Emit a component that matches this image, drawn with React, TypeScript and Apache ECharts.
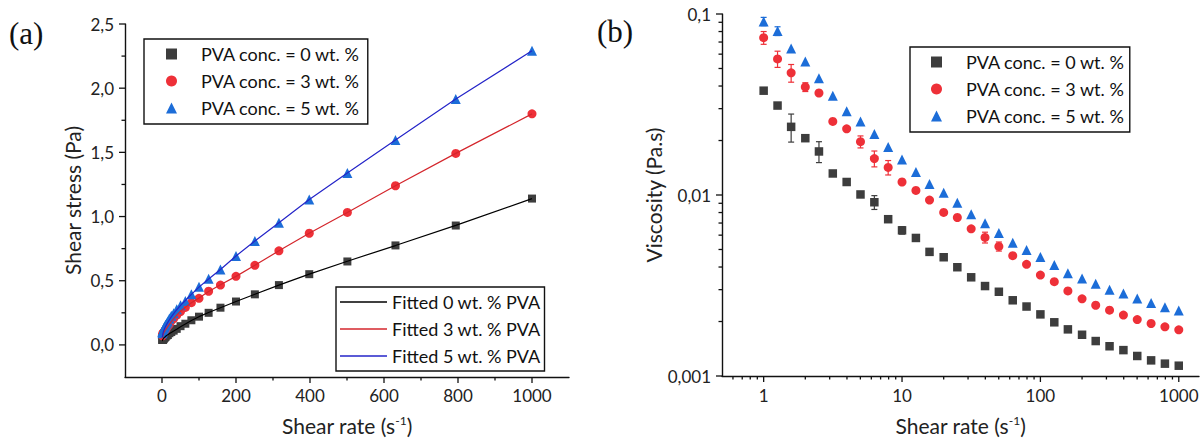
import React, { useEffect, useRef } from 'react';
import * as echarts from 'echarts';

// ---------- data ----------
const shearRate = [1, 1.26, 1.58, 2, 2.51, 3.16, 3.98, 5.01, 6.31, 7.94, 10, 12.6, 15.8, 20, 25.1, 31.6, 39.8, 50.1, 63.1, 79.4, 100, 126, 158, 200, 251, 316, 398, 501, 631, 794, 1000];

// (a) shear stress (Pa)
const stress0 = [0.038, 0.039, 0.038, 0.041, 0.044, 0.042, 0.047, 0.050, 0.058, 0.058, 0.064, 0.073, 0.077, 0.091, 0.100, 0.111, 0.125, 0.146, 0.165, 0.192, 0.220, 0.250, 0.290, 0.338, 0.394, 0.466, 0.551, 0.650, 0.775, 0.930, 1.140];
const stress3 = [0.074, 0.071, 0.075, 0.079, 0.092, 0.081, 0.092, 0.099, 0.100, 0.113, 0.118, 0.134, 0.148, 0.160, 0.189, 0.205, 0.232, 0.260, 0.292, 0.329, 0.363, 0.418, 0.466, 0.534, 0.620, 0.733, 0.870, 1.032, 1.240, 1.492, 1.800];
const stress5 = [0.091, 0.101, 0.102, 0.109, 0.111, 0.112, 0.115, 0.128, 0.137, 0.146, 0.157, 0.169, 0.182, 0.206, 0.227, 0.247, 0.278, 0.309, 0.343, 0.394, 0.453, 0.516, 0.588, 0.693, 0.810, 0.952, 1.133, 1.340, 1.596, 1.915, 2.292];

// (a) fitted curves
const fit0 = [0.030, 0.034, 0.037, 0.041, 0.044, 0.047, 0.050, 0.055, 0.059, 0.062, 0.067, 0.073, 0.080, 0.088, 0.097, 0.108, 0.122, 0.141, 0.163, 0.190, 0.220, 0.252, 0.290, 0.338, 0.395, 0.466, 0.551, 0.652, 0.774, 0.931, 1.140];
const fit3 = [0.050, 0.056, 0.062, 0.068, 0.074, 0.080, 0.087, 0.094, 0.102, 0.110, 0.119, 0.131, 0.145, 0.162, 0.182, 0.205, 0.232, 0.262, 0.294, 0.329, 0.365, 0.416, 0.468, 0.534, 0.620, 0.733, 0.870, 1.032, 1.240, 1.492, 1.800];
const fit5 = [0.060, 0.066, 0.073, 0.080, 0.088, 0.096, 0.104, 0.113, 0.123, 0.134, 0.146, 0.160, 0.176, 0.196, 0.218, 0.244, 0.274, 0.308, 0.346, 0.394, 0.450, 0.514, 0.588, 0.693, 0.810, 0.952, 1.133, 1.340, 1.596, 1.915, 2.292];

// (b) viscosity (Pa.s)
const visc0 = [0.0377, 0.0312, 0.0238, 0.0206, 0.0174, 0.01315, 0.0118, 0.01007, 0.00912, 0.00735, 0.00638, 0.00579, 0.00485, 0.00453, 0.00399, 0.00351, 0.00314, 0.00292, 0.00262, 0.00242, 0.00219, 0.00198, 0.00181, 0.00169, 0.00156, 0.00146, 0.00139, 0.00129, 0.00122, 0.00117, 0.00114];
const visc3 = [0.0740, 0.0565, 0.0473, 0.0395, 0.0366, 0.0255, 0.0232, 0.0197, 0.0159, 0.0142, 0.0118, 0.0106, 0.00938, 0.00801, 0.00751, 0.00650, 0.00583, 0.00520, 0.00462, 0.00414, 0.00361, 0.00332, 0.00295, 0.00267, 0.00246, 0.00231, 0.00217, 0.00205, 0.00195, 0.00187, 0.00180];
const visc5 = [0.0910, 0.0805, 0.0645, 0.0547, 0.0441, 0.0353, 0.0290, 0.0255, 0.0217, 0.0184, 0.0157, 0.0134, 0.0115, 0.0103, 0.00905, 0.00782, 0.00698, 0.00617, 0.00544, 0.00496, 0.00455, 0.00411, 0.00370, 0.00346, 0.00323, 0.00300, 0.00286, 0.00268, 0.00253, 0.00240, 0.00230];

// (b) error bars (+/-), 0 = no bar
const err0 = [0, 0, 0.0042, 0, 0.0023, 0, 0, 0, 0.0008, 0, 0.0003, 0, 0, 0, 0, 0, 0, 0, 0, 0, 0, 0, 0, 0, 0, 0, 0, 0, 0, 0, 0];
const err3 = [0.0060, 0.0058, 0.0053, 0.0022, 0.0010, 0, 0, 0.0015, 0.0016, 0.0013, 0, 0, 0, 0, 0, 0, 0.0004, 0.0003, 0, 0, 0, 0, 0, 0, 0, 0, 0, 0, 0, 0, 0];
const err5 = [0.0048, 0.0045, 0, 0, 0, 0, 0, 0, 0, 0, 0, 0, 0, 0, 0, 0, 0, 0, 0, 0, 0, 0, 0, 0, 0, 0, 0, 0, 0, 0, 0];

const seriesNames = ['PVA conc. = 0 wt. %', 'PVA conc. = 3 wt. %', 'PVA conc. = 5 wt. %'];
const fitNames = ['Fitted 0 wt. % PVA', 'Fitted 3 wt. % PVA', 'Fitted 5 wt. % PVA'];

// tick values
const leftXMajor = [0, 200, 400, 600, 800, 1000];
const leftXMinor = [100, 300, 500, 700, 900];
const leftYMajor = [0, 0.5, 1, 1.5, 2, 2.5];
const leftYMinor = [0.25, 0.75, 1.25, 1.75, 2.25];
const rightXMajor = [1, 10, 100, 1000];
const rightXMinor = [0.6, 0.7, 0.8, 0.9, 2, 3, 4, 5, 6, 7, 8, 9, 20, 30, 40, 50, 60, 70, 80, 90, 200, 300, 400, 500, 600, 700, 800, 900];
const rightYMajor = [0.001, 0.01, 0.1];
const rightYMinor = [0.002, 0.003, 0.004, 0.005, 0.006, 0.007, 0.008, 0.009, 0.02, 0.03, 0.04, 0.05, 0.06, 0.07, 0.08, 0.09];

// ---------- styles ----------
const FONT = 'Lato, "Open Sans", sans-serif';
const C0 = '#3d3d3d';
const C3 = '#ee3038';
const C5 = '#1c6dd8';
const F0 = '#000000';
const F3 = '#d4262c';
const F5 = '#2424c8';

const L_XMIN = -100, L_XMAX = 1100, L_YMIN = -0.25, L_YMAX = 2.5;
const R_XMIN = 0.5, R_XMAX = 1400, R_YMIN = 0.001, R_YMAX = 0.1;

const near = (a: number, b: number) => Math.abs(a - b) < 1e-6;

function tickSeries(gridIdx: number, xMajor: number[], xMinor: number[], yMajor: number[], yMinor: number[], xMin: number, yMin: number) {
  const data: number[][] = [
    ...xMajor.map((v) => [v, yMin, 1, 0]),
    ...xMinor.map((v) => [v, yMin, 0, 0]),
    ...yMajor.map((v) => [xMin, v, 1, 1]),
    ...yMinor.map((v) => [xMin, v, 0, 1]),
  ];
  return {
    type: 'custom',
    xAxisIndex: gridIdx,
    yAxisIndex: gridIdx,
    silent: true,
    clip: false,
    z: 5,
    encode: { x: 0, y: 1 },
    data,
    renderItem: (params: any, api: any) => {
      const p = api.coord([api.value(0), api.value(1)]);
      const len = api.value(2) ? 6 : 3.5;
      const vertical = api.value(3) === 0;
      return {
        type: 'line',
        shape: vertical
          ? { x1: p[0], y1: p[1], x2: p[0], y2: p[1] + len }
          : { x1: p[0] - len, y1: p[1], x2: p[0], y2: p[1] },
        style: { stroke: '#111', lineWidth: 1.3 },
      };
    },
  };
}

function errSeries(visc: number[], err: number[], color: string) {
  const data: number[][] = [];
  shearRate.forEach((r, i) => {
    if (err[i] > 0) data.push([r, visc[i] - err[i], visc[i] + err[i]]);
  });
  return {
    type: 'custom',
    xAxisIndex: 1,
    yAxisIndex: 1,
    silent: true,
    z: 2,
    encode: { x: 0, y: [1, 2] },
    data,
    renderItem: (params: any, api: any) => {
      const x = api.value(0);
      const a = api.coord([x, api.value(1)]);
      const b = api.coord([x, api.value(2)]);
      const w = 3;
      const st = { stroke: color, lineWidth: 1.2 };
      return {
        type: 'group',
        children: [
          { type: 'line', shape: { x1: a[0], y1: a[1], x2: b[0], y2: b[1] }, style: st },
          { type: 'line', shape: { x1: a[0] - w, y1: a[1], x2: a[0] + w, y2: a[1] }, style: st },
          { type: 'line', shape: { x1: b[0] - w, y1: b[1], x2: b[0] + w, y2: b[1] }, style: st },
        ],
      };
    },
  };
}

const axisLine = { show: true, onZero: false, lineStyle: { color: '#111', width: 1.4 } };
const supRich = { sup: { fontSize: 12, padding: [0, 0, 11, 0], fontFamily: FONT, color: '#222' } };
const titleStyle = { fontSize: 21, color: '#222', fontFamily: FONT };
const tickLabel = { fontSize: 17, color: '#222', fontFamily: FONT };
const legendText = { fontSize: 18, lineHeight: 18, color: '#111', fontFamily: FONT };

export default function App() {
  const ref = useRef<HTMLDivElement>(null);

  useEffect(() => {
    if (!ref.current) return;
    const chart = echarts.init(ref.current, null, { renderer: 'svg' });

    const option: any = {
      animation: false,
      backgroundColor: '#ffffff',
      textStyle: { fontFamily: FONT },
      grid: [
        { left: 125, top: 24, width: 444, height: 361 },
        { left: 722, top: 14, width: 481, height: 377 },
      ],
      xAxis: [
        {
          gridIndex: 0,
          type: 'value',
          min: L_XMIN,
          max: L_XMAX,
          interval: 100,
          axisLine,
          axisTick: { show: false },
          splitLine: { show: false },
          axisLabel: {
            ...tickLabel,
            margin: 10,
            formatter: (v: number) => (v >= 0 && near(v / 200, Math.round(v / 200)) ? String(Math.round(v)) : ''),
          },
          name: 'Shear rate (s{sup|-1})',
          nameLocation: 'middle',
          nameGap: 37,
          nameTextStyle: { ...titleStyle, rich: supRich },
        },
        {
          gridIndex: 1,
          type: 'log',
          min: R_XMIN,
          max: R_XMAX,
          axisLine,
          axisTick: { show: false },
          minorTick: { show: false },
          splitLine: { show: false },
          axisLabel: {
            ...tickLabel,
            margin: 11,
            formatter: (v: number) => {
              const e = Math.log10(v);
              return near(e, Math.round(e)) ? String(Math.round(v)) : '';
            },
          },
          name: 'Shear rate (s{sup|-1})',
          nameLocation: 'middle',
          nameGap: 38,
          nameTextStyle: { ...titleStyle, rich: supRich },
        },
      ],
      yAxis: [
        {
          gridIndex: 0,
          type: 'value',
          min: L_YMIN,
          max: L_YMAX,
          interval: 0.25,
          axisLine,
          axisTick: { show: false },
          splitLine: { show: false },
          axisLabel: {
            ...tickLabel,
            margin: 11,
            formatter: (v: number) => (v > -1e-9 && near(v / 0.5, Math.round(v / 0.5)) ? v.toFixed(1).replace('.', ',') : ''),
          },
          name: 'Shear stress (Pa)',
          nameLocation: 'middle',
          nameGap: 42,
          nameTextStyle: titleStyle,
        },
        {
          gridIndex: 1,
          type: 'log',
          min: R_YMIN,
          max: R_YMAX,
          axisLine,
          axisTick: { show: false },
          minorTick: { show: false },
          splitLine: { show: false },
          axisLabel: {
            ...tickLabel,
            margin: 11,
            formatter: (v: number) => {
              const e = Math.round(Math.log10(v));
              if (!near(Math.log10(v), e)) return '';
              return Math.pow(10, e).toFixed(-e).replace('.', ',');
            },
          },
          name: 'Viscosity (Pa.s)',
          nameLocation: 'middle',
          nameGap: 56,
          nameTextStyle: titleStyle,
        },
      ],
      legend: [
        {
          left: 144,
          top: 39,
          orient: 'vertical',
          data: [
            { name: seriesNames[0], icon: 'rect' },
            { name: seriesNames[1], icon: 'circle' },
            { name: seriesNames[2], icon: 'triangle' },
          ],
          itemWidth: 11,
          itemHeight: 11,
          itemGap: 9,
          padding: [6, 8, 7, 22],
          borderColor: '#111',
          borderWidth: 1.4,
          backgroundColor: '#fff',
          selectedMode: false,
          textStyle: { ...legendText, padding: [0, 0, 0, 19] },
        },
        {
          left: 336,
          top: 287,
          orient: 'vertical',
          data: fitNames.map((n) => ({ name: n, icon: 'rect' })),
          itemWidth: 47,
          itemHeight: 1.6,
          itemGap: 9,
          padding: [6, 4, 6, 4],
          borderColor: '#111',
          borderWidth: 1.4,
          backgroundColor: '#fff',
          selectedMode: false,
          textStyle: legendText,
        },
        {
          left: 910,
          top: 47,
          orient: 'vertical',
          data: [
            { name: seriesNames[0], icon: 'rect' },
            { name: seriesNames[1], icon: 'circle' },
            { name: seriesNames[2], icon: 'triangle' },
          ],
          itemWidth: 11,
          itemHeight: 11,
          itemGap: 9,
          padding: [6, 5, 7, 21],
          borderColor: '#111',
          borderWidth: 1.4,
          backgroundColor: '#fff',
          selectedMode: false,
          textStyle: { ...legendText, padding: [0, 0, 0, 19] },
        },
      ],
      graphic: [
        { type: 'text', left: 9, top: 18, style: { text: '(a)', font: '31px "Liberation Serif", "DejaVu Serif", serif', fill: '#111' } },
        { type: 'text', left: 597, top: 16, style: { text: '(b)', font: '31px "Liberation Serif", "DejaVu Serif", serif', fill: '#111' } },
      ],
      series: [
        // (a) fitted lines
        { name: fitNames[0], type: 'line', xAxisIndex: 0, yAxisIndex: 0, symbol: 'none', showSymbol: false, z: 4, lineStyle: { color: F0, width: 1.2 }, itemStyle: { color: F0 }, data: shearRate.map((r, i) => [r, fit0[i]]) },
        { name: fitNames[1], type: 'line', xAxisIndex: 0, yAxisIndex: 0, symbol: 'none', showSymbol: false, z: 4, lineStyle: { color: F3, width: 1.2 }, itemStyle: { color: F3 }, data: shearRate.map((r, i) => [r, fit3[i]]) },
        { name: fitNames[2], type: 'line', xAxisIndex: 0, yAxisIndex: 0, symbol: 'none', showSymbol: false, z: 4, lineStyle: { color: F5, width: 1.2 }, itemStyle: { color: F5 }, data: shearRate.map((r, i) => [r, fit5[i]]) },
        // (a) points
        { name: seriesNames[0], type: 'scatter', xAxisIndex: 0, yAxisIndex: 0, symbol: 'rect', symbolSize: 8, z: 3, itemStyle: { color: C0, opacity: 1 }, data: shearRate.map((r, i) => [r, stress0[i]]) },
        { name: seriesNames[1], type: 'scatter', xAxisIndex: 0, yAxisIndex: 0, symbol: 'circle', symbolSize: 9, z: 3, itemStyle: { color: C3, opacity: 1 }, data: shearRate.map((r, i) => [r, stress3[i]]) },
        { name: seriesNames[2], type: 'scatter', xAxisIndex: 0, yAxisIndex: 0, symbol: 'triangle', symbolSize: 10, z: 3, itemStyle: { color: C5, opacity: 1 }, data: shearRate.map((r, i) => [r, stress5[i]]) },
        // (b) error bars
        errSeries(visc0, err0, C0),
        errSeries(visc3, err3, C3),
        errSeries(visc5, err5, C5),
        // (b) points
        { name: seriesNames[0], type: 'scatter', xAxisIndex: 1, yAxisIndex: 1, symbol: 'rect', symbolSize: 8.5, z: 3, itemStyle: { color: C0, opacity: 1 }, data: shearRate.map((r, i) => [r, visc0[i]]) },
        { name: seriesNames[1], type: 'scatter', xAxisIndex: 1, yAxisIndex: 1, symbol: 'circle', symbolSize: 9, z: 3, itemStyle: { color: C3, opacity: 1 }, data: shearRate.map((r, i) => [r, visc3[i]]) },
        { name: seriesNames[2], type: 'scatter', xAxisIndex: 1, yAxisIndex: 1, symbol: 'triangle', symbolSize: 10, z: 3, itemStyle: { color: C5, opacity: 1 }, data: shearRate.map((r, i) => [r, visc5[i]]) },
        // ticks
        tickSeries(0, leftXMajor, leftXMinor, leftYMajor, leftYMinor, L_XMIN, L_YMIN),
        tickSeries(1, rightXMajor, rightXMinor, rightYMajor, rightYMinor, R_XMIN, R_YMIN),
      ],
    };

    chart.setOption(option);
    return () => chart.dispose();
  }, []);

  return (
    <div
      ref={ref}
      style={{ position: 'fixed', left: 0, top: 0, width: 1202, height: 441, background: '#fff' }}
    />
  );
}
